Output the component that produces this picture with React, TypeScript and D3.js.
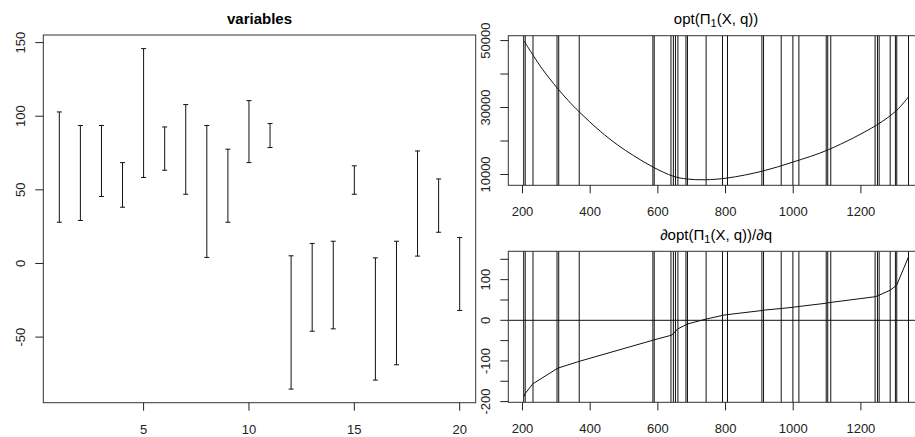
import { useEffect, useRef } from 'react';
import * as d3 from 'd3';

// Left panel: one interval per variable
const variableIds = [1, 2, 3, 4, 5, 6, 7, 8, 9, 10, 11, 12, 13, 14, 15, 16, 17, 18, 19, 20];
const intervalLow = [28.0, 29.2, 45.5, 38.2, 58.4, 63.3, 47.0, 4.1, 28.0, 68.5, 78.7, -85.3, -46.0, -44.4, 47.0, -79.2, -68.8, 5.0, 21.2, -31.9];
const intervalHigh = [102.9, 93.7, 93.7, 68.5, 145.9, 92.7, 107.9, 93.7, 77.6, 110.6, 95.0, 5.2, 13.6, 15.1, 66.3, 3.8, 15.1, 76.4, 57.4, 17.6];
const variableXTicks = [5, 10, 15, 20];
const variableYTicks = [-50, 0, 50, 100, 150];

// Right panels: sample points q (vertical lines) and the two curves
const sampleQ = [203.5, 208, 231, 302, 307, 367.6, 585.3, 589.2, 638.7, 645.8, 652, 659.2, 683, 687.5, 742.6, 791, 805.8, 907.4, 912.3, 964.5, 999, 1016.8, 1097.5, 1102, 1111, 1242, 1249, 1254, 1286.6, 1302, 1306, 1340.7];
const derivValue = [-188, -180, -156, -119, -117, -101, -49, -48, -37, -33, -27, -21, -11, -9, 3, 12, 14, 24, 25, 29, 32, 34, 42, 43, 44, 58, 60, 62, 74, 84, 87, 156];
const optQ = [205, 232, 260, 302, 335, 367.6, 430, 480, 528, 585, 646, 686, 740, 806, 907, 999, 1104, 1247, 1306, 1340.7];
const optValue = [49800, 45500, 41300, 35900, 32100, 28700, 22900, 18900, 15650, 12250, 9450, 8650, 8420, 8950, 10950, 13700, 17400, 24800, 29200, 33200];
const qTicks = [200, 400, 600, 800, 1000, 1200];
const optTicks = [10000, 20000, 30000, 40000, 50000];
const optTickLabels = [10000, 30000, 50000];
const derivTicks = [-200, -150, -100, -50, 0, 50, 100, 150];
const derivTickLabels = [-200, -100, 0, 100];

const FONT = "'Liberation Sans', Arial, Helvetica, sans-serif";

type Box = { x0: number; x1: number; y0: number; y1: number };

// R style: data range padded by 4% on both sides
const padRange = (values: number[]): [number, number] => {
    const [lo, hi] = d3.extent(values) as [number, number];
    const d = (hi - lo) * 0.04;
    return [lo - d, hi + d];
};

const App = () => {
    const svgRef = useRef<SVGSVGElement | null>(null);

    useEffect(() => {
        if (!svgRef.current) return;
        const svg = d3.select(svgRef.current);
        svg.selectAll('*').remove();

        const frame = (box: Box) => {
            svg.append('rect')
                .attr('x', box.x0)
                .attr('y', box.y0)
                .attr('width', box.x1 - box.x0)
                .attr('height', box.y1 - box.y0)
                .attr('fill', 'none')
                .attr('stroke', '#333')
                .attr('stroke-width', 1);
        };

        const xAxis = (x: d3.ScaleLinear<number, number>, box: Box, ticks: number[]) => {
            const g = svg.append('g');
            g.selectAll('line').data(ticks).enter().append('line')
                .attr('x1', d => x(d)).attr('x2', d => x(d))
                .attr('y1', box.y1).attr('y2', box.y1 + 8)
                .attr('stroke', '#222');
            g.selectAll('text').data(ticks).enter().append('text')
                .attr('x', d => x(d))
                .attr('y', box.y1 + 31)
                .attr('text-anchor', 'middle')
                .attr('font-family', FONT)
                .attr('font-size', 13)
                .attr('fill', '#222')
                .text(d => String(d));
        };

        const yAxis = (y: d3.ScaleLinear<number, number>, box: Box, ticks: number[], labels: number[]) => {
            const g = svg.append('g');
            g.selectAll('line').data(ticks).enter().append('line')
                .attr('x1', box.x0 - 8).attr('x2', box.x0)
                .attr('y1', d => y(d)).attr('y2', d => y(d))
                .attr('stroke', '#222');
            g.selectAll('text').data(labels).enter().append('text')
                .attr('transform', d => `translate(${box.x0 - 18.8},${y(d)}) rotate(-90)`)
                .attr('text-anchor', 'middle')
                .attr('font-family', FONT)
                .attr('font-size', 13)
                .attr('fill', '#222')
                .text(d => String(d));
        };

        // ---------- Left panel: variables ----------
        const left: Box = { x0: 43.3, x1: 475.7, y0: 35, y1: 402.7 };
        const xL = d3.scaleLinear().domain(padRange(variableIds)).range([left.x0, left.x1]);
        const yL = d3.scaleLinear().domain(padRange([...intervalLow, ...intervalHigh])).range([left.y1, left.y0]);

        const bars = svg.append('g').attr('stroke', '#111').attr('stroke-width', 1);
        variableIds.forEach((id, i) => {
            const cx = xL(id);
            const ylo = yL(intervalLow[i]);
            const yhi = yL(intervalHigh[i]);
            bars.append('line').attr('x1', cx).attr('x2', cx).attr('y1', ylo).attr('y2', yhi);
            bars.append('line').attr('x1', cx - 2.5).attr('x2', cx + 2.5).attr('y1', ylo).attr('y2', ylo);
            bars.append('line').attr('x1', cx - 2.5).attr('x2', cx + 2.5).attr('y1', yhi).attr('y2', yhi);
        });
        frame(left);
        xAxis(xL, left, variableXTicks);
        yAxis(yL, left, variableYTicks, variableYTicks);

        svg.append('text')
            .attr('x', (left.x0 + left.x1) / 2)
            .attr('y', 24.3)
            .attr('text-anchor', 'middle')
            .attr('font-family', FONT)
            .attr('font-size', 15)
            .attr('font-weight', 700)
            .attr('fill', '#000')
            .text('variables');

        // ---------- Right panels ----------
        const top: Box = { x0: 508.3, x1: 923.9, y0: 35.7, y1: 185.3 };
        const bottom: Box = { x0: 508.3, x1: 923.9, y0: 251.3, y1: 402.3 };
        const xR = d3.scaleLinear().domain(padRange(sampleQ)).range([top.x0, top.x1]);
        const yTop = d3.scaleLinear().domain(padRange(optValue)).range([top.y1, top.y0]);
        const yBot = d3.scaleLinear().domain(padRange(derivValue)).range([bottom.y1, bottom.y0]);

        const vlines = (box: Box) => {
            svg.append('g').selectAll('line').data(sampleQ).enter().append('line')
                .attr('x1', d => xR(d)).attr('x2', d => xR(d))
                .attr('y1', box.y0).attr('y2', box.y1)
                .attr('stroke', '#111')
                .attr('stroke-width', 1);
        };

        // top: opt curve
        vlines(top);
        const optLine = d3.line<number>()
            .x((_, i) => xR(optQ[i]))
            .y(d => yTop(d))
            .curve(d3.curveCatmullRom);
        svg.append('path')
            .datum(optValue)
            .attr('d', optLine)
            .attr('fill', 'none')
            .attr('stroke', '#111')
            .attr('stroke-width', 1);
        frame(top);
        xAxis(xR, top, qTicks);
        yAxis(yTop, top, optTicks, optTickLabels);

        // bottom: derivative curve
        vlines(bottom);
        svg.append('line')
            .attr('x1', bottom.x0).attr('x2', bottom.x1)
            .attr('y1', yBot(0)).attr('y2', yBot(0))
            .attr('stroke', '#111');
        const derivLine = d3.line<number>()
            .x((_, i) => xR(sampleQ[i]))
            .y(d => yBot(d));
        svg.append('path')
            .datum(derivValue)
            .attr('d', derivLine)
            .attr('fill', 'none')
            .attr('stroke', '#111')
            .attr('stroke-width', 1);
        frame(bottom);
        xAxis(xR, bottom, qTicks);
        yAxis(yBot, bottom, derivTicks, derivTickLabels);

        // titles with subscript
        const mathTitle = (cx: number, baseline: number, pre: string, post: string) => {
            const t = svg.append('text')
                .attr('x', cx)
                .attr('y', baseline)
                .attr('text-anchor', 'middle')
                .attr('font-family', FONT)
                .attr('font-size', 15)
                .attr('fill', '#000');
            t.append('tspan').text(pre);
            t.append('tspan').attr('font-size', 11).attr('dy', 3).text('1');
            t.append('tspan').attr('dy', -3).text(post);
        };
        mathTitle((top.x0 + top.x1) / 2, 23.5, 'opt(Π', '(X, q))');
        mathTitle((bottom.x0 + bottom.x1) / 2, 239.5, '∂opt(Π', '(X, q))/∂q');
    }, []);

    return (
        <div style={{ position: 'absolute', left: 0, top: 0 }}>
            <svg ref={svgRef} width={915} height={437} style={{ display: 'block', background: '#fff' }}></svg>
        </div>
    );
};

export default App;
